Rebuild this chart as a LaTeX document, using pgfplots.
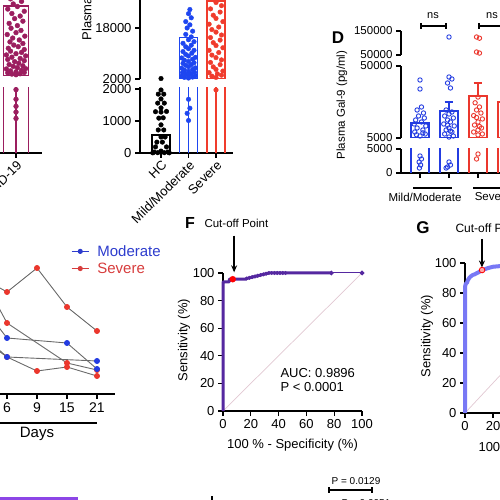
\documentclass[border=0pt]{standalone}
\usepackage{fontspec}
\setmainfont{Liberation Sans}
\usepackage{pgfplots}
\pgfplotsset{compat=1.18}
\usetikzlibrary{arrows.meta}
\definecolor{maroon}{RGB}{155,30,95}
\definecolor{bblue}{RGB}{30,70,240}
\definecolor{rred}{RGB}{240,60,45}
\definecolor{dblue}{RGB}{35,60,225}
\definecolor{dred}{RGB}{235,55,45}
\definecolor{lblue}{RGB}{45,60,205}
\definecolor{lred}{RGB}{215,60,60}
\definecolor{fpurp}{RGB}{85,40,160}
\definecolor{gperi}{RGB}{120,120,245}
\definecolor{diag}{RGB}{225,200,210}
\definecolor{lgray}{RGB}{105,105,105}
\definecolor{bpurp}{RGB}{140,70,230}
\newcommand{\fz}[1]{\fontsize{#1}{#1}\selectfont}
\pgfplotsset{gp/.style={scale only axis, anchor=south west,
  axis line style={line width=1.2pt,-}, tick style={line width=1.2pt,black},
  tick align=outside, major tick length=5pt,
  /pgf/number format/assume math mode=true, /pgf/number format/1000 sep={},
  tick label style={font=\fz{13}},
  axis x line*=bottom, axis y line*=left, scaled ticks=false}}
\begin{document}
\begin{tikzpicture}
\path[use as bounding box] (0pt,0pt) rectangle (500pt,500pt);
\clip (0pt,0pt) rectangle (500pt,500pt);
% ---------------- Panel 1 (COVID-19) lower
\begin{axis}[gp, at={(-30pt,347pt)}, width=72pt, height=65.9pt,
  xmin=-1.673, xmax=0.945, ymin=0, ymax=2060, ytick=\empty,
  xtick={0}, xticklabels={COVID-19}, xticklabel style={rotate=45, anchor=north east, inner sep=1pt}]
\addplot[maroon, line width=1.3pt] coordinates {(-0.455,0)(-0.455,24000)(0.455,24000)(0.455,0)};
\addplot[maroon, line width=1.3pt] coordinates {(0,0)(0,2100)};
\addplot[only marks, mark=*, mark size=2.4pt, maroon] coordinates {(0,1980)(0,1680)(0,1460)(0,1280)(0,1080)};
\end{axis}
% Panel 1 upper
\begin{axis}[gp, at={(-30pt,424pt)}, width=72pt, height=102pt, axis x line=none,
  xmin=-1.673, xmax=0.945, ymin=2000, ymax=34000, ytick=\empty]
\addplot[maroon, line width=1.3pt] coordinates {(-0.455,2000)(-0.455,24000)(0.455,24000)(0.455,2000)(-0.455,2000)};
\addplot[only marks, mark=*, mark size=2.4pt, maroon] coordinates {
(0,2400)(-0.15,2600)(0.15,2700)(-0.3,3000)(0.3,3100)(0,3300)(-0.2,3600)(0.2,3800)(-0.35,4200)(0.35,4300)
(0.05,4600)(-0.1,5000)(0.25,5200)(-0.25,5600)(0.1,6000)(-0.05,6500)(0.3,6800)(-0.3,7200)(0.15,7500)(-0.15,7900)
(0.35,8300)(-0.35,8600)(0,9000)(0.2,9400)(-0.2,9800)(0.3,10300)(-0.28,10700)(0.08,11200)(-0.08,11700)(0.25,12200)
(-0.22,12700)(0.12,13300)(-0.12,13900)(0.32,14500)(-0.32,15000)(0,15600)(0.18,16300)(-0.18,17000)(0.05,17800)(-0.25,18500)
(0.25,19200)(-0.05,20000)(0.15,20800)(-0.15,21600)(0.3,22300)(-0.3,23000)(0.05,23800)(-0.1,24600)(0.2,25400)(-0.2,26200)
(0,27000)(0.1,28000)(-0.12,29000)};
\end{axis}
% ---------------- Panel 2 lower
\begin{axis}[gp, at={(140pt,347pt)}, width=93pt, height=65.9pt,
  xmin=-0.764, xmax=2.618, ymin=0, ymax=2060, ytick={0,1000,2000}, yticklabels={0,1000,2000},
  xtick={0,1,2}, xticklabels={HC,Mild/Moderate,Severe},
  xticklabel style={rotate=45, anchor=north east, inner sep=1pt}]
\addplot[black, line width=1.2pt] coordinates {(-0.327,0)(-0.327,560)(0.327,560)(0.327,0)};
\addplot[bblue, line width=1.2pt] coordinates {(0.673,0)(0.673,14900)(1.327,14900)(1.327,0)};
\addplot[rred, line width=1.2pt] coordinates {(1.673,0)(1.673,26500)(2.327,26500)(2.327,0)};
\addplot[bblue, line width=1.2pt] coordinates {(1,0)(1,2100)};
\addplot[rred, line width=1.2pt] coordinates {(2,0)(2,2100)};
\addplot[only marks, mark=*, mark size=2.3pt, black] coordinates {
(0,1970)(-0.1,1840)(0.1,1840)(0,1690)(-0.12,1560)(0.12,1560)(0,1410)(-0.2,1290)(0.2,1300)(0,1280)
(-0.08,1090)(0.08,1100)(0,880)(0.1,720)(-0.1,720)(0,500)(0.15,500)(-0.15,340)(0.05,340)(0.2,190)
(-0.2,190)(0,60)(-0.25,30)(0.25,30)(0.12,10)(-0.12,10)(0.3,5)(-0.3,5)};
\addplot[only marks, mark=*, mark size=2.3pt, bblue] coordinates {(1,1680)(1.05,1400)(0.95,1240)(1,1016)};
\addplot[only marks, mark=*, mark size=2.3pt, rred] coordinates {(2,1970)};
\end{axis}
% Panel 2 upper
\begin{axis}[gp, at={(140pt,421pt)}, width=93pt, height=102pt, axis x line=none,
  xmin=-0.764, xmax=2.618, ymin=2000, ymax=34000, ytick={2000,18000,34000}, yticklabels={2000,18000,34000}]
\addplot[bblue, line width=1.2pt] coordinates {(0.673,2000)(0.673,14900)(1.327,14900)(1.327,2000)(0.673,2000)};
\addplot[rred, line width=1.2pt] coordinates {(1.673,2000)(1.673,26500)(2.327,26500)(2.327,2000)(1.673,2000)};
\addplot[only marks, mark=*, mark size=2.3pt, black] coordinates {(0,2150)};
\addplot[only marks, mark=*, mark size=2.3pt, bblue] coordinates {
(1,2300)(0.85,2500)(1.15,2600)(0.75,2900)(1.25,3000)(1,3200)(0.9,3500)(1.1,3700)(0.78,4000)(1.22,4100)
(1,4400)(0.85,4800)(1.15,5000)(0.75,5400)(1.25,5500)(1,5900)(0.9,6300)(1.1,6500)(0.8,6900)(1.2,7100)
(1,7500)(0.85,7900)(1.15,8200)(0.75,8600)(1.25,8800)(1,9200)(0.9,9700)(1.12,10100)(0.8,10600)(1.2,11000)
(1,11500)(0.9,12100)(1.1,12600)(0.8,13200)(1.2,13700)(1,14300)(1.1,15200)(0.9,16000)(1.15,17000)(0.95,18000)
(1.05,19000)(0.9,20000)(1.1,21200)(1,22500)(1.05,23800)};
\addplot[only marks, mark=*, mark size=2.3pt, rred] coordinates {
(2,2500)(1.85,2900)(2.2,3200)(2.05,3600)(1.75,4000)(2.25,4500)(2,5000)(1.9,5800)(2.15,6500)(1.8,7200)
(2.2,8000)(2,8700)(1.85,9500)(2.1,10300)(1.75,11000)(2.25,11800)(2,12500)(1.9,13400)(2.15,14200)(1.8,15000)
(2.2,15800)(2,16700)(1.85,17500)(2.1,18300)(1.75,19200)(2.25,20000)(2,21000)(1.9,22000)(2.15,23000)(1.8,24000)
(2.2,25000)(2,26000)(1.85,27000)(2.1,28000)(1.95,29000)};
\end{axis}
\node[rotate=90, font=\fz{13}] at (88pt,521pt) {Plasma Gal-9 (pg/ml)};
% ---------------- Panel D
\begin{axis}[gp, at={(401pt,327pt)}, width=119pt, height=24pt,
  xmin=-0.655, xmax=3.448, ymin=0, ymax=5000, ytick={0,5000}, yticklabels={0,5000},
  xtick={0,1,2,3}, xticklabels={}, tick label style={font=\fz{11.5}}]
\addplot[dblue, line width=1.3pt] coordinates {(-0.31,0)(-0.31,14375)(0.31,14375)(0.31,0)};
\addplot[dblue, line width=1.3pt] coordinates {(0.69,0)(0.69,21875)(1.31,21875)(1.31,0)};
\addplot[dred, line width=1.3pt] coordinates {(1.69,0)(1.69,31250)(2.31,31250)(2.31,0)};
\addplot[dred, line width=1.3pt] coordinates {(2.69,0)(2.69,27500)(3.31,27500)(3.31,0)};
\addplot[only marks, mark=o, mark size=2.2pt, line width=0.9pt, dblue] coordinates {
(0,3540)(0.05,2920)(-0.03,2290)(0.02,1670)(-0.02,1040)(1,2290)(1.05,1670)(0.95,1250)(0.9,1040)};
\addplot[only marks, mark=o, mark size=2.2pt, line width=0.9pt, dred] coordinates {(2,3960)(1.95,2920)(3,2500)};
\end{axis}
\begin{axis}[gp, at={(401pt,362pt)}, width=119pt, height=72pt, axis x line=none,
  xmin=-0.655, xmax=3.448, ymin=5000, ymax=50000, ytick={5000,50000}, yticklabels={5000,50000},
  tick label style={font=\fz{11.5}}]
\addplot[dblue, line width=1.3pt] coordinates {(-0.31,5000)(-0.31,14375)(0.31,14375)(0.31,5000)(-0.31,5000)};
\addplot[dblue, line width=1.3pt] coordinates {(0.69,5000)(0.69,21875)(1.31,21875)(1.31,5000)(0.69,5000)};
\addplot[dred, line width=1.3pt] coordinates {(1.69,5000)(1.69,31250)(2.31,31250)(2.31,5000)(1.69,5000)};
\addplot[dred, line width=1.3pt] coordinates {(2.69,5000)(2.69,27500)(3.31,27500)(3.31,5000)(2.69,5000)};
\addplot[dblue, line width=1.3pt] coordinates {(1,21875)(1,27500)};
\addplot[dblue, line width=1.3pt] coordinates {(0.85,27500)(1.15,27500)};
\addplot[dred, line width=1.3pt] coordinates {(2,31250)(2,39375)};
\addplot[dred, line width=1.3pt] coordinates {(1.85,39375)(2.15,39375)};
\addplot[dred, line width=1.3pt] coordinates {(3,27500)(3,40000)};
\addplot[only marks, mark=o, mark size=2.2pt, line width=0.9pt, dblue] coordinates {
(0,41250)(0,35625)(0.05,24375)(-0.1,22500)(0.12,20625)(-0.05,18750)(0.15,17500)(-0.15,16250)(0.05,15000)(-0.2,13750)
(0.2,12500)(-0.1,11250)(0.1,10000)(-0.18,8750)(0.18,7500)(0,6250)(-0.12,7000)(0.1,8200)
(1,43125)(1.1,41875)(0.95,39375)(1.05,36250)(0.9,22500)(1.1,21250)(1,20000)(0.85,18750)(1.15,17500)(0.95,16250)
(1.05,15000)(0.82,13750)(1.18,12500)(1,11250)(0.9,10000)(1.1,8750)(0.85,7500)(1.15,6250)(1,5600)(0.95,13000)(1.05,9300)};
\addplot[only marks, mark=o, mark size=2.2pt, line width=0.9pt, dred] coordinates {
(2,30600)(1.9,27000)(2.05,24400)(1.95,22500)(2.1,20600)(1.85,19000)(2.15,16900)(2,15000)(1.88,13100)(2.12,11250)
(2,10000)(1.85,8750)(2.15,7500)(2,6900)(2.05,12200)(1.95,17800)
(2.95,40600)(2.9,30000)(2.95,25000)(2.9,20000)(2.95,15000)(2.9,10000)};
\end{axis}
\begin{axis}[gp, at={(401pt,445pt)}, width=119pt, height=24pt, axis x line=none,
  xmin=-0.655, xmax=3.448, ymin=50000, ymax=150000, ytick={50000,150000}, yticklabels={50000,150000},
  tick label style={font=\fz{11.5}}]
\addplot[only marks, mark=o, mark size=2.2pt, line width=0.9pt, dblue] coordinates {(1,125000)};
\addplot[only marks, mark=o, mark size=2.2pt, line width=0.9pt, dred] coordinates {(1.95,125000)(2.05,120000)(1.95,62500)(2.05,58000)(2.95,100000)};
\end{axis}
\node[font=\bfseries\fz{17}] at (338pt,462pt) {D};
\node[rotate=90, font=\fz{11.5}] at (342pt,395pt) {Plasma Gal-9 (pg/ml)};
\draw[line width=1.1pt] (421pt,474pt) -- (446pt,474pt) (421pt,471pt) -- (421pt,477pt) (446pt,471pt) -- (446pt,477pt);
\draw[line width=1.1pt] (479pt,474pt) -- (504pt,474pt) (479pt,471pt) -- (479pt,477pt) (504pt,471pt) -- (504pt,477pt);
\node[font=\fz{11}] at (433pt,484pt) {ns};
\node[font=\fz{11}] at (492pt,484pt) {ns};
\draw[line width=1.1pt] (413pt,312pt) -- (452pt,312pt) (473pt,312pt) -- (512pt,312pt);
\node[font=\fz{11.5}] at (425pt,303pt) {Mild/Moderate};
\node[font=\fz{11.5}] at (493pt,303pt) {Severe};
% ---------------- Panel E
\begin{axis}[gp, at={(-53pt,106pt)}, width=168pt, height=200pt, axis y line=none,
  xmin=-1, xmax=4.6, ymin=0, ymax=200, xtick={0,1,2,3,4}, xticklabels={3,6,9,15,21},
  tick label style={font=\fz{14}},
  legend style={at={(0.738,0.755)}, anchor=north west, draw=none, fill=none, font=\fz{15},
    row sep=1pt, inner sep=0pt}, legend cell align=left]
\addlegendimage{lblue, line width=1.1pt, mark=*, mark size=2pt, mark options={draw=lblue, fill=lblue}}
\addlegendentry{\hspace{6pt}\textcolor{lblue}{Moderate}}
\addlegendimage{lred, line width=1.1pt, mark=*, mark size=2pt, mark options={draw=lred, fill=lred}}
\addlegendentry{\hspace{6pt}\textcolor{lred}{Severe}}
\addplot[forget plot, lgray, line width=0.9pt, mark=*, mark size=2.5pt, mark options={draw=dred, fill=dred}] coordinates {(0,119)(1,102)(2,126)(3,87)(4,63)};
\addplot[forget plot, lgray, line width=0.9pt, mark=*, mark size=2.5pt, mark options={draw=dred, fill=dred}] coordinates {(0,127)(1,71)(3,31)(4,24)};
\addplot[forget plot, lgray, line width=0.9pt, mark=*, mark size=2.5pt, mark options={draw=dred, fill=dred}] coordinates {(0,64)(1,37)(2,23)(3,27)(4,18)};
\addplot[forget plot, lgray, line width=0.9pt, mark=*, mark size=2.5pt, mark options={draw=dblue, fill=dblue}] coordinates {(0,95)(1,56)(3,51)(4,25)};
\addplot[forget plot, lgray, line width=0.9pt, mark=*, mark size=2.5pt, mark options={draw=dblue, fill=dblue}] coordinates {(0,59)(1,37)(4,33)};
\end{axis}
\draw[line width=1.1pt] (-5pt,77pt) -- (97pt,77pt);
\node[font=\fz{15}] at (37pt,66pt) {Days};
% ---------------- Panel F
\begin{axis}[gp, at={(223pt,89pt)}, width=139pt, height=138pt, clip=false,
  xmin=0, xmax=100, ymin=0, ymax=100, xtick={0,20,...,100}, ytick={0,20,...,100}]
\addplot[diag, line width=0.7pt] coordinates {(0,0)(100,100)};
\addplot[fpurp, line width=1pt, mark=*, mark size=1.8pt] coordinates {(78,100)(100,100)};
\addplot[fpurp, line width=3pt, line join=round] coordinates {(0,0)(0,93.5)(4.5,93.5)(4.5,95.5)(16,95.5)(17,96)(19,96.5)(21,97)(23,97.5)(25,98)(27,98.5)(29,99)(31,99.5)(33,100)(78,100)};
\addplot[only marks, mark=*, mark size=1.8pt, fpurp] coordinates {(17,96)(19,96.5)(21,97)(23,97.5)(25,98)(27,98.5)(29,99)(31,99.5)(33,100)(35,100)(37,100)(39,100)(41,100)(43,100)(45,100)};
\addplot[only marks, mark=*, mark size=3pt, red] coordinates {(7,95.5)};
\draw[-{Stealth[length=7pt,width=6pt]}, line width=1.4pt] (axis cs:8,127) -- (axis cs:8,100.5);
\end{axis}
\node[font=\bfseries\fz{16}] at (190pt,277pt) {F};
\node[font=\fz{11.5}, anchor=west] at (201pt,277pt) {Cut-off Point};
\node[rotate=90, font=\fz{13}] at (184pt,160pt) {Sensitivity (\%)};
\node[font=\fz{13}] at (292.5pt,55pt) {100 \% - Specificity (\%)};
\node[font=\fz{13}, anchor=west] at (277pt,127pt) {AUC: 0.9896};
\node[font=\fz{13}, anchor=west] at (277pt,113pt) {P < 0.0001};
% ---------------- Panel G
\begin{axis}[gp, at={(465pt,87pt)}, width=140pt, height=150pt, clip=false,
  xmin=0, xmax=100, ymin=0, ymax=100, xtick={0,20,...,100}, ytick={0,20,...,100}]
\addplot[diag, line width=0.7pt] coordinates {(0,0)(100,100)};
\addplot[gperi, line width=4pt, line join=round] coordinates {(0,0)(0,84)(0.5,86)(1.5,87)(2,88.5)(3,90)(4,91)(5.5,92)(7,92.5)(9,93.5)(11,94.5)(13,95.5)(16,96.5)(20,97.5)(26,98)(32,99)(40,100)(100,100)};
\addplot[only marks, mark=*, mark size=2.8pt, draw=red, fill=red!35, line width=0.8pt] coordinates {(12.2,95.3)};
\draw[-{Stealth[length=7pt,width=6pt]}, line width=1.4pt] (axis cs:12.1,116) -- (axis cs:12.1,97);
\end{axis}
\node[font=\bfseries\fz{17}] at (423pt,272pt) {G};
\node[font=\fz{12}, anchor=west] at (452pt,272pt) {Cut-off Point};
\node[rotate=90, font=\fz{13}] at (427pt,164pt) {Sensitivity (\%)};
\node[font=\fz{13}, anchor=west] at (475pt,52pt) {100 \% - Specificity (\%)};
% ---------------- bottom fragments
\node[font=\fz{10}] at (356pt,19pt) {P = 0.0129};
\draw[line width=1.1pt] (329pt,10pt) -- (372pt,10pt) (329pt,7pt) -- (329pt,13pt) (372pt,7pt) -- (372pt,13pt);
\node[font=\fz{10}] at (366pt,-3pt) {P = 0.0051};
\fill[bpurp] (-5pt,-10pt) rectangle (78pt,3pt);
\draw[line width=1.1pt] (212pt,-5pt) -- (212pt,4pt);
\end{tikzpicture}
\end{document}
